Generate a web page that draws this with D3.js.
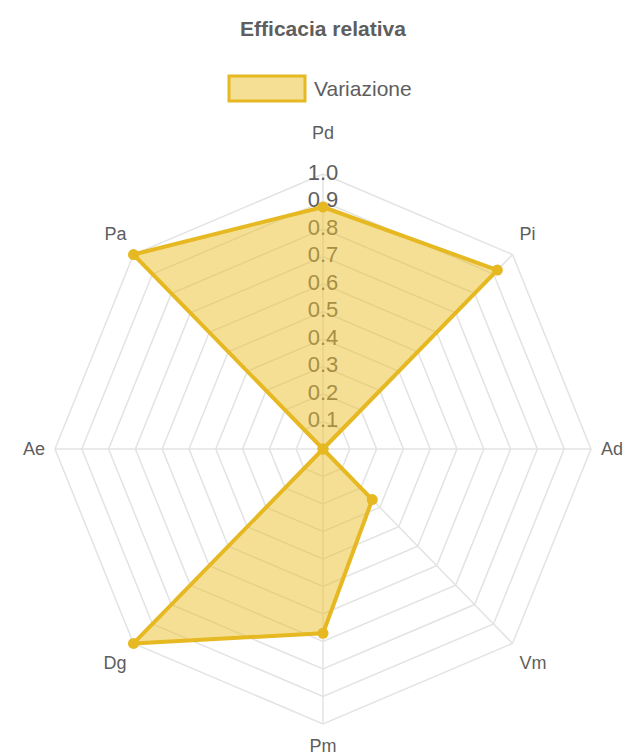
<html>
<head>
<script src="https://d3js.org/d3.v7.min.js"></script>
<style>
	body { margin: 0; background: #fff; }
	text { font-family: "Liberation Sans", Arial, sans-serif; }
</style>
</head>
<body>
<svg id="chart" width="625" height="755"></svg>
<script>
	// data
	const labels = ["Pd", "Pi", "Ad", "Vm", "Pm", "Dg", "Ae", "Pa"];
	const values = [0.88, 0.92, 0.0, 0.26, 0.67, 1.0, 0.0, 1.0];
	const ticks = [0.1, 0.2, 0.3, 0.4, 0.5, 0.6, 0.7, 0.8, 0.9, 1.0];
	const seriesName = "Variazione";
	const title = "Efficacia relativa";

	const stroke = "rgb(230,184,34)";
	const fill = "rgba(235,192,44,0.5)";
	const grid = "#e3e3e3";
	const txt = "#5e5e5e";

	const cx = 323, cy = 449;
	// picture is a little taller than wide
	const rx = d3.scaleLinear().domain([0, 1]).range([0, 268]);
	const ry = d3.scaleLinear().domain([0, 1]).range([0, 275]);
	const angle = d3.scaleLinear().domain([0, labels.length]).range([0, 2 * Math.PI]);

	function pos(i, v) {
		const a = angle(i);
		return [cx + rx(v) * Math.sin(a), cy - ry(v) * Math.cos(a)];
	}

	const svg = d3.select("#chart");

	// title
	svg.append("text")
		.attr("x", cx).attr("y", 36)
		.attr("text-anchor", "middle")
		.style("font-size", "21px").style("font-weight", "bold")
		.attr("fill", txt)
		.text(title);

	// legend
	svg.append("rect")
		.attr("x", 229).attr("y", 76).attr("width", 76).attr("height", 25)
		.attr("fill", fill).attr("stroke", stroke).attr("stroke-width", 3);
	svg.append("text")
		.attr("x", 314).attr("y", 96)
		.style("font-size", "21px")
		.attr("fill", txt)
		.text(seriesName);

	// grid rings
	const g = svg.append("g");
	g.selectAll("polygon.ring").data(ticks).enter().append("polygon")
		.attr("class", "ring")
		.attr("points", t => labels.map((l, i) => pos(i, t).join(",")).join(" "))
		.attr("fill", "none").attr("stroke", grid).attr("stroke-width", 1.5);

	// angle lines
	g.selectAll("line.spoke").data(labels).enter().append("line")
		.attr("class", "spoke")
		.attr("x1", cx).attr("y1", cy)
		.attr("x2", (l, i) => pos(i, 1)[0])
		.attr("y2", (l, i) => pos(i, 1)[1])
		.attr("stroke", grid).attr("stroke-width", 1.5);

	// tick labels (under the fill)
	g.selectAll("text.tick").data(ticks).enter().append("text")
		.attr("class", "tick")
		.attr("x", cx)
		.attr("y", t => cy - ry(t) - 2)
		.attr("dy", "0.36em")
		.attr("text-anchor", "middle")
		.style("font-size", "22px")
		.attr("fill", txt)
		.text(d3.format(".1f"));

	// point labels
	g.selectAll("text.plabel").data(labels).enter().append("text")
		.attr("class", "plabel")
		.each(function (l, i) {
			const a = angle(i);
			const s = Math.sin(a), c = Math.cos(a);
			let x = cx + (rx(1) + 10) * s;
			let y = cy - (ry(1) + 10) * c;
			if (c > 0.1) y -= 14;
			if (c > 0.99) y -= 17;
			if (c < -0.1) y += 12;
			const anchor = s > 0.1 ? "start" : (s < -0.1 ? "end" : "middle");
			d3.select(this)
				.attr("x", x).attr("y", y)
				.attr("dy", "0.36em")
				.attr("text-anchor", anchor);
		})
		.style("font-size", "18px")
		.attr("fill", txt)
		.text(l => l);

	// dataset
	const line = d3.line().curve(d3.curveLinearClosed);
	const pts = values.map((v, i) => pos(i, v));
	svg.append("path")
		.attr("d", line(pts))
		.attr("fill", fill)
		.attr("stroke", stroke)
		.attr("stroke-width", 4)
		.attr("stroke-linejoin", "round");

	svg.selectAll("circle.pt").data(pts).enter().append("circle")
		.attr("class", "pt")
		.attr("cx", d => d[0]).attr("cy", d => d[1])
		.attr("r", 5.5)
		.attr("fill", stroke);
</script>
</body>
</html>
